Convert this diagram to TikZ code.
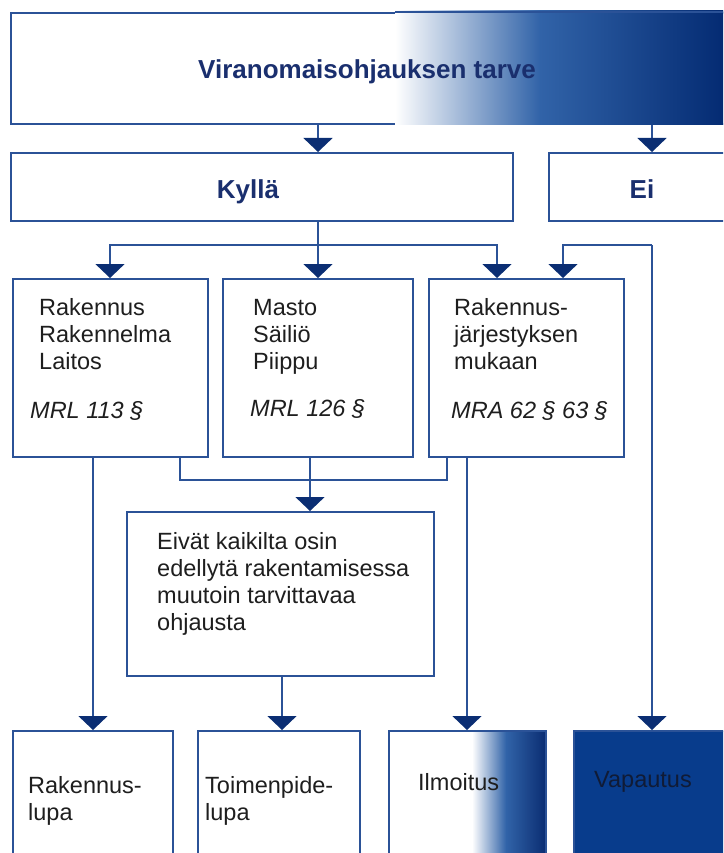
\documentclass[tikz,border=0pt]{standalone}
\usepackage{fontspec}
\setmainfont{Liberation Sans}
\usetikzlibrary{arrows.meta}

\definecolor{lineblue}{HTML}{2B5297}
\definecolor{navy}{HTML}{0B2E73}
\definecolor{deepnavy}{HTML}{00266E}
\definecolor{midblue}{HTML}{3163A8}
\definecolor{fillblue}{HTML}{083C8C}
\definecolor{titleblue}{HTML}{1A2F6E}
\definecolor{bodytext}{HTML}{1E1E1E}
\definecolor{darktext}{HTML}{101B36}

\begin{document}
\begin{tikzpicture}[x=1pt,y=-1pt,
  frame/.style={draw=lineblue, line width=1.8pt, rectangle, inner sep=0pt, anchor=north west},
  conn/.style={draw=lineblue, line width=1.6pt},
  arr/.style={conn, -{Triangle[width=29pt,length=14pt,fill=navy,color=navy]}},
  title/.style={font=\fontsize{26}{30}\selectfont\bfseries, text=titleblue, inner sep=0pt},
  body/.style={font=\fontsize{23.5}{27.2}\selectfont, text=bodytext, inner sep=0pt, anchor=base west, align=left},
  lawref/.style={body, font=\fontsize{23.5}{27.2}\selectfont\itshape}
]
\useasboundingbox (0,0) rectangle (723,853);
\clip (0,0) rectangle (723,853);

% boxes
\node[frame, minimum width=730pt, minimum height=111pt] (top) at (10,12) {};
\shade[left color=white, right color=midblue] (395,11) rectangle (540,124.5);
\shade[left color=midblue, right color=deepnavy] (540,11) rectangle (740,124.5);
\draw[lineblue, line width=1.8pt] (395,12) -- (740,12);

\node[frame, minimum width=502pt, minimum height=68pt] (kylla) at (10,152) {};
\node[frame, minimum width=200pt, minimum height=68pt] (ei) at (548,152) {};

\node[frame, minimum width=195pt, minimum height=178pt] (b1) at (12,278) {};
\node[frame, minimum width=190pt, minimum height=178pt] (b2) at (222,278) {};
\node[frame, minimum width=195pt, minimum height=178pt] (b3) at (428,278) {};
\node[frame, minimum width=307pt, minimum height=164pt] (b4) at (126,511) {};

\node[frame, minimum width=160pt, minimum height=140pt] (rlupa) at (12,730) {};
\node[frame, minimum width=162pt, minimum height=140pt] (tlupa) at (197,730) {};
\shade[left color=white, right color=midblue] (472,730) rectangle (506,875);
\shade[left color=midblue, right color=navy] (506,730) rectangle (545,875);
\node[frame, minimum width=157pt, minimum height=140pt] (ilm) at (388,730) {};
\node[frame, fill=fillblue, minimum width=170pt, minimum height=140pt] (vap) at (573,730) {};

% connector columns and rows
\coordinate (xA) at (652,0);
\coordinate (xB) at (318,0);
\coordinate (xL) at (110,0);
\coordinate (xR) at (497,0);
\coordinate (xE) at (563,0);
\coordinate (x93) at (93,0);
\coordinate (x180) at (180,0);
\coordinate (x447) at (447,0);
\coordinate (x310) at (310,0);
\coordinate (x467) at (467,0);
\coordinate (x282) at (282,0);
\coordinate (ys) at (0,245);
\coordinate (ym) at (0,480);

% connectors
\draw[arr] (top.south -| xB) -- (kylla.north -| xB);
\draw[arr] (top.south -| xA) -- (ei.north -| xA);
\draw[arr] (kylla.south -| xB) -- (b2.north -| xB);
\draw[arr] (xB |- ys) -| (b1.north -| xL);
\draw[arr] (xB |- ys) -| (b3.north -| xR);
\draw[arr] (xA |- ys) -| (b3.north -| xE);
\draw[arr] (xA |- ys) -- (vap.north -| xA);

\draw[arr] (b1.south -| x93) -- (rlupa.north -| x93);
\draw[conn] (b1.south -| x180) -- (x180 |- ym) -- (x447 |- ym) -- (b3.south -| x447);
\draw[arr] (b2.south -| x310) -- (b4.north -| x310);
\draw[arr] (b3.south -| x467) -- (ilm.north -| x467);
\draw[arr] (b4.south -| x282) -- (tlupa.north -| x282);

% texts (multi-line nodes sit on the baseline of their last line)
\node[title, anchor=base west] (tt) at (198,79) {Viranomaisohjauksen tarve};
\node[title, anchor=base] (kt) at (248,198) {Kyllä};
\node[title, anchor=base] (et) at (642,198) {Ei};

\node[body] (t1) at (39,369.4) {Rakennus\\Rakennelma\\Laitos};
\node[lawref] (r1) at (30,418) {MRL 113 §};
\node[body] (t2) at (253,369.4) {Masto\\Säiliö\\Piippu};
\node[lawref] (r2) at (250,416) {MRL 126 §};
\node[body] (t3) at (454,369.4) {Rakennus-\\järjestyksen\\mukaan};
\node[lawref] (r3) at (451,418) {MRA 62 § 63 §};
\node[body] (t4) at (157,630.6) {Eivät kaikilta osin\\edellytä rakentamisessa\\muutoin tarvittavaa\\ohjausta};
\node[body] (t5) at (28,820.2) {Rakennus-\\lupa};
\node[body] (t6) at (205,820.2) {Toimenpide-\\lupa};
\node[body] (t7) at (418,790) {Ilmoitus};
\node[body, text=darktext] (t8) at (594,787) {Vapautus};
\end{tikzpicture}
\end{document}
